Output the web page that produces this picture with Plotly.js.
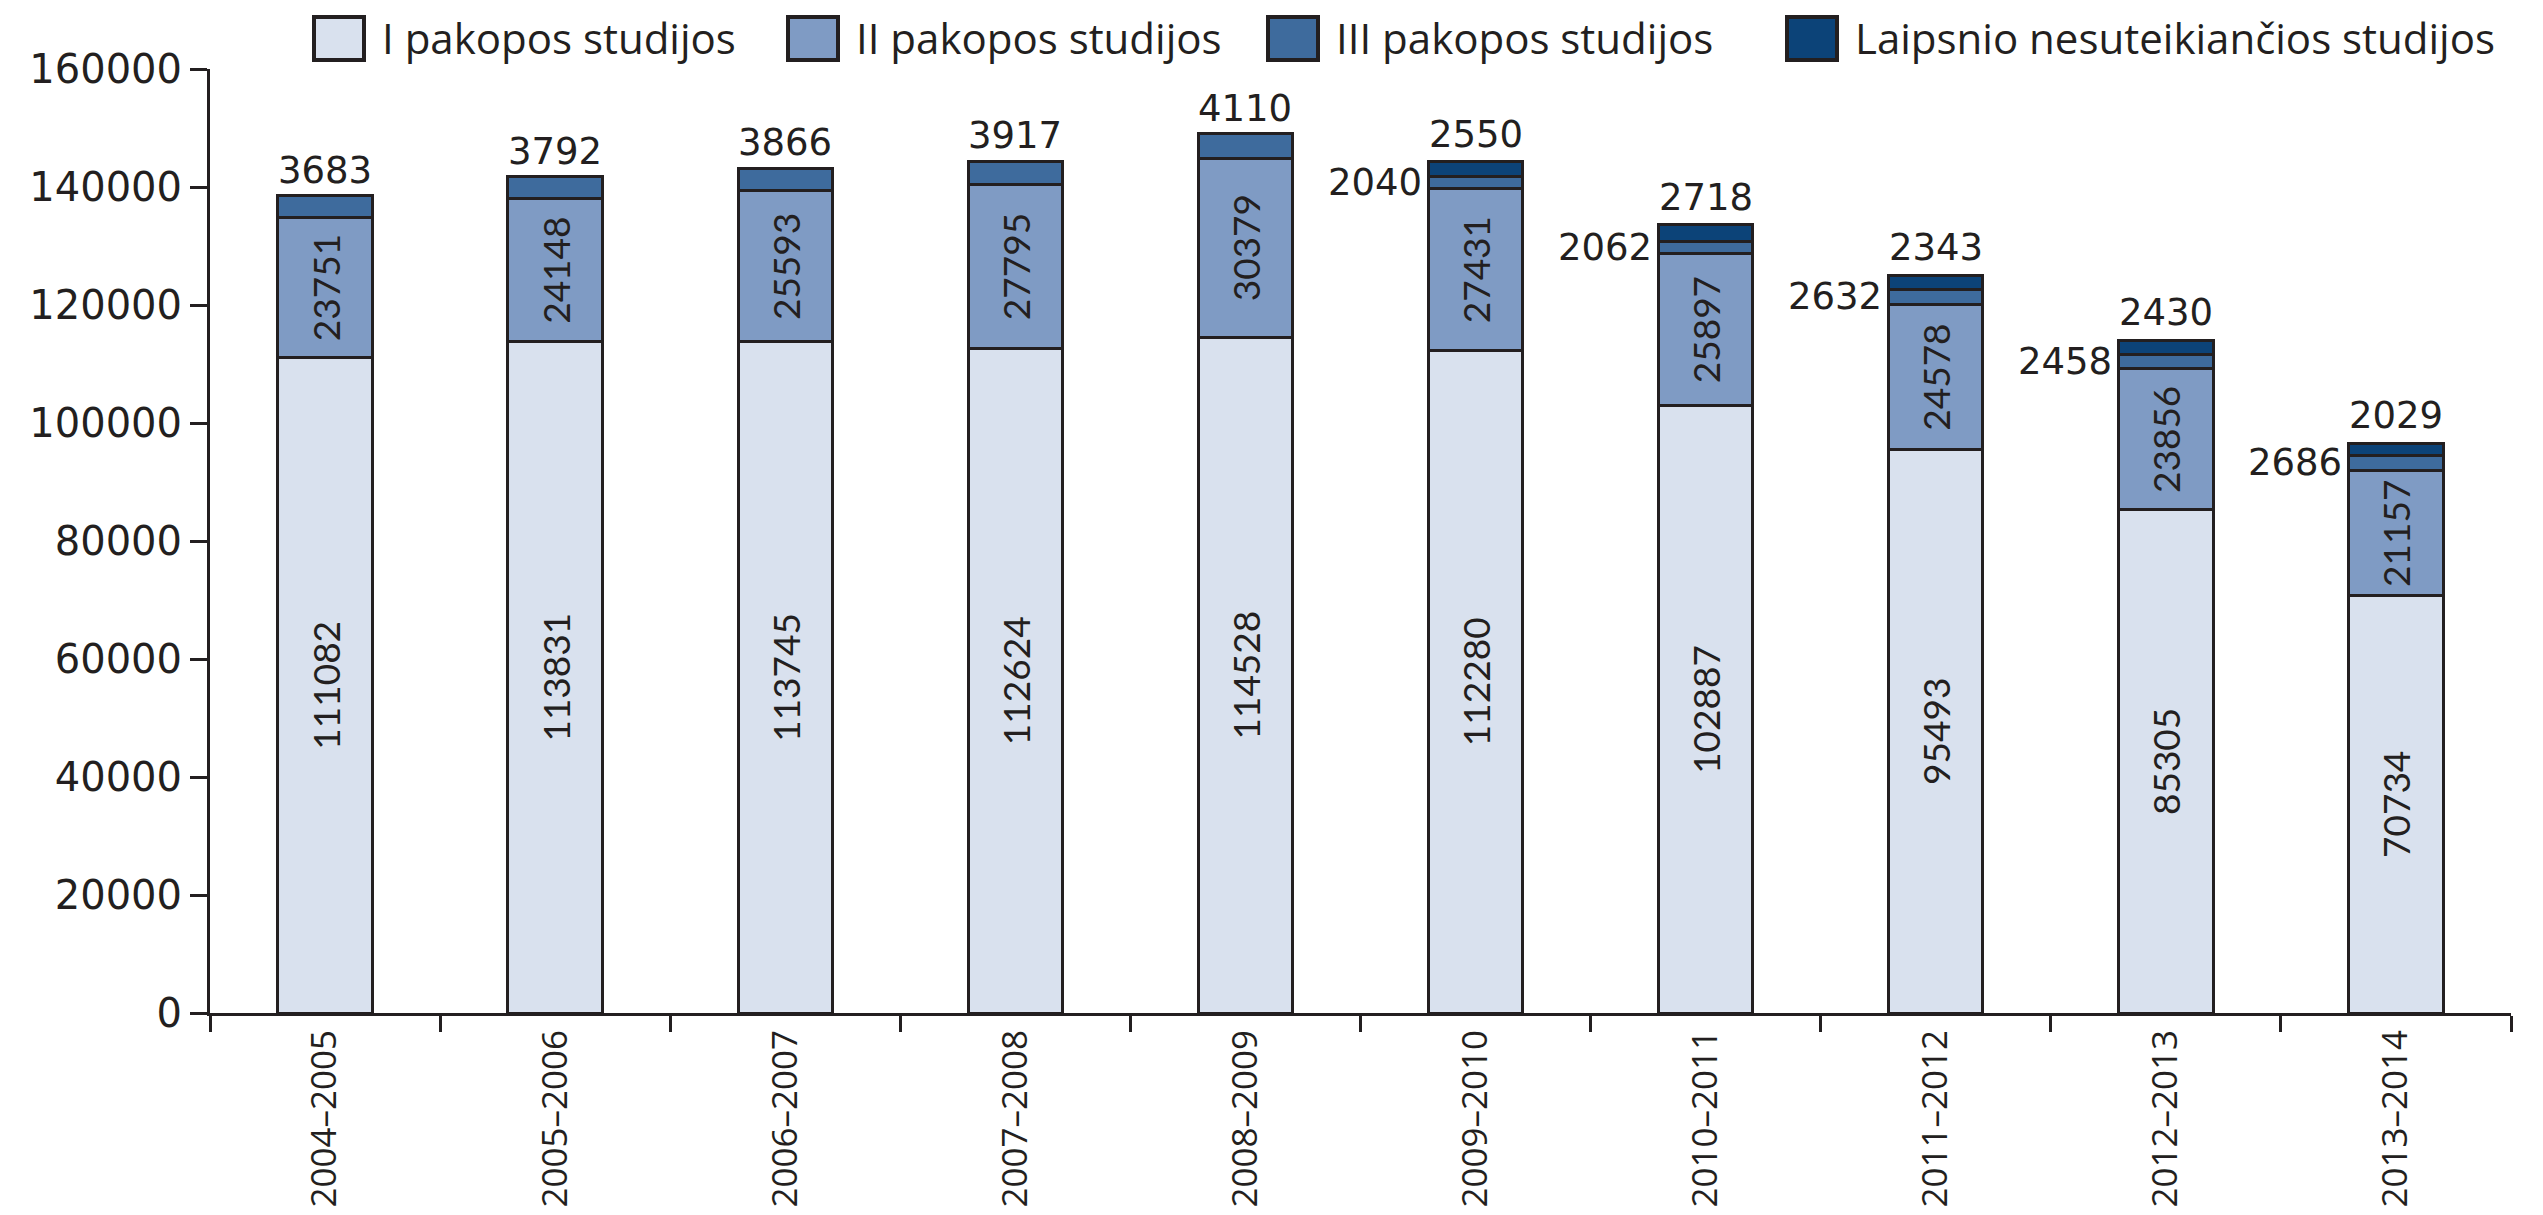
<!DOCTYPE html>
<html>
<head>
<meta charset="utf-8">
<script src="https://cdn.plot.ly/plotly-3.0.1.min.js"></script>
<style>html,body{margin:0;padding:0;background:#fff;}#chart{width:2543px;height:1215px;}</style>
</head>
<body>
<div id="chart"></div>
<script>
const categories = ["2004–2005","2005–2006","2006–2007","2007–2008","2008–2009","2009–2010","2010–2011","2011–2012","2012–2013","2013–2014"];
const seriesNames = ["I pakopos studijos","II pakopos studijos","III pakopos studijos","Laipsnio nesuteikiančios studijos"];
const firstCycle = [111082,113831,113745,112624,114528,112280,102887,95493,85305,70734];
const secondCycle = [23751,24148,25593,27795,30379,27431,25897,24578,23856,21157];
const thirdCycle = [3683,3792,3866,3917,4110,2040,2062,2632,2458,2686];
const nonDegree = [null,null,null,null,null,2550,2718,2343,2430,2029];
const yTicks = [0,20000,40000,60000,80000,100000,120000,140000,160000];

const W = 2543, H = 1215;
const M = {l: 210, r: 32, t: 69, b: 202};
const colors = ["#d9e1ee","#7f9bc4","#3e6b9d","#0c4378"];
const ink = "#231f20";
const outline = {color: ink, width: 3};
const mainFont = "Open Sans, sans-serif";
const wideFont = "DejaVu Sans, sans-serif";
const narrowFont = "Liberation Sans Narrow, Lato, sans-serif";

const series = [firstCycle, secondCycle, thirdCycle, nonDegree];
const traces = series.map((vals, i) => ({
  type: "bar",
  name: seriesNames[i],
  x: categories,
  y: vals,
  marker: {color: colors[i], line: outline},
  text: (i < 2) ? vals.map(String) : undefined,
  textposition: (i < 2) ? "inside" : "none",
  insidetextanchor: "middle",
  textangle: -90,
  constraintext: "none",
  textfont: {family: narrowFont, size: 37, color: ink},
  hoverinfo: "skip",
  showlegend: false
}));

const annotations = [];
categories.forEach((c, k) => {
  const base = firstCycle[k] + secondCycle[k];
  const f = {family: wideFont, size: 37, color: ink};
  if (nonDegree[k] == null) {
    annotations.push({x: c, y: base + thirdCycle[k], text: String(thirdCycle[k]), showarrow: false,
      xanchor: "center", yanchor: "bottom", yshift: 2, font: f});
  } else {
    annotations.push({x: c, y: base + thirdCycle[k] / 2, text: String(thirdCycle[k]), showarrow: false,
      xanchor: "right", yanchor: "middle", xshift: -52, font: f});
    annotations.push({x: c, y: base + thirdCycle[k] + nonDegree[k], text: String(nonDegree[k]), showarrow: false,
      xanchor: "center", yanchor: "bottom", yshift: 4, font: f});
  }
});

// custom legend (large boxes as in the reference)
const pw = W - M.l - M.r, ph = H - M.t - M.b;
const px2x = p => (p - M.l) / pw;
const py2y = p => 1 - (p - M.t) / ph;
const legendBoxX = [314, 788, 1268, 1787];
const shapes = [];
seriesNames.forEach((name, i) => {
  const x0 = legendBoxX[i];
  shapes.push({type: "rect", xref: "paper", yref: "paper",
    x0: px2x(x0), x1: px2x(x0 + 50), y0: py2y(60), y1: py2y(17),
    fillcolor: colors[i], line: {color: ink, width: 4}});
  annotations.push({xref: "paper", yref: "paper", x: px2x(x0 + 66), y: py2y(38),
    xanchor: "left", yanchor: "middle", text: name, showarrow: false,
    font: {family: mainFont, size: 42, color: ink}});
});

const layout = {
  width: W, height: H,
  margin: {l: M.l, r: M.r, t: M.t, b: M.b, pad: 0},
  paper_bgcolor: "#fff", plot_bgcolor: "#fff",
  barmode: "stack",
  bargap: 0.59,
  showlegend: false,
  xaxis: {
    type: "category",
    showline: true, linecolor: ink, linewidth: 3,
    ticks: "outside", tickson: "boundaries", ticklen: 16, tickwidth: 3, tickcolor: ink,
    tickangle: -90, tickfont: {family: mainFont, size: 35, color: ink},
    ticklabelstandoff: 0,
    showgrid: false, zeroline: false, fixedrange: true
  },
  yaxis: {
    range: [0, 160000],
    tickvals: yTicks, ticktext: yTicks.map(String),
    showline: true, linecolor: ink, linewidth: 3,
    ticks: "outside", ticklen: 17, tickwidth: 3, tickcolor: ink,
    tickfont: {family: wideFont, size: 40, color: ink},
    showgrid: false, zeroline: false, fixedrange: true
  },
  shapes: shapes,
  annotations: annotations
};

Plotly.newPlot("chart", traces, layout, {displayModeBar: false, staticPlot: true});
</script>
</body>
</html>
